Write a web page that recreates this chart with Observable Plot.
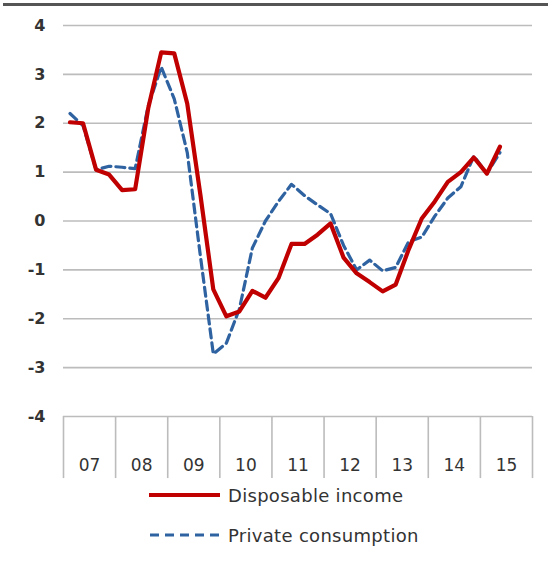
<!DOCTYPE html>
<html>
<head>
<meta charset="utf-8">
<script src="https://cdn.jsdelivr.net/npm/d3@7"></script>
<script src="https://cdn.jsdelivr.net/npm/@observablehq/plot@0.6"></script>
<style>
  html, body { margin: 0; padding: 0; background: #fff; }
  #wrap { position: relative; width: 558px; height: 563px; overflow: hidden; font-family: "DejaVu Sans", sans-serif; }
  #toprule { position: absolute; left: 3px; top: 3px; width: 545px; height: 3px; background: #555; }
  #chart { position: absolute; left: 0; top: 0; }
  .leg { position: absolute; left: 149px; display: flex; align-items: center; height: 24px; }
  .leg svg { display: block; margin-right: 8px; }
  .leg span { font-size: 18px; color: #333; white-space: nowrap; letter-spacing: 0.3px; }
</style>
</head>
<body>
<div id="wrap">
  <div id="chart"></div>
  <div id="toprule"></div>
  <div class="leg" style="top:483px">
    <svg width="71" height="8"><line x1="0" y1="4" x2="71" y2="4" stroke="#c00000" stroke-width="4"/></svg>
    <span>Disposable income</span>
  </div>
  <div class="leg" style="top:523px">
    <svg width="71" height="8"><line x1="1" y1="4" x2="71" y2="4" stroke="#2e62a0" stroke-width="3" stroke-dasharray="9,6"/></svg>
    <span>Private consumption</span>
  </div>
</div>
<script>
// Year labels (x-axis categories, 4 quarters each)
const years = ["07", "08", "09", "10", "11", "12", "13", "14", "15"];
// Quarter labels for the observations
const quarters = [
  "07Q1","07Q2","07Q3","07Q4","08Q1","08Q2","08Q3","08Q4",
  "09Q1","09Q2","09Q3","09Q4","10Q1","10Q2","10Q3","10Q4",
  "11Q1","11Q2","11Q3","11Q4","12Q1","12Q2","12Q3","12Q4",
  "13Q1","13Q2","13Q3","13Q4","14Q1","14Q2","14Q3","14Q4",
  "15Q1","15Q2"
];
const disposableIncome = [
  2.02, 2.0, 1.05, 0.95, 0.63, 0.65, 2.3, 3.45,
  3.43, 2.4, 0.55, -1.4, -1.95, -1.85, -1.43, -1.57,
  -1.17, -0.47, -0.47, -0.28, -0.05, -0.75, -1.07, -1.25,
  -1.44, -1.3, -0.58, 0.05, 0.4, 0.8, 1.0, 1.3,
  0.97, 1.52
];
const privateConsumption = [
  2.2, 1.95, 1.05, 1.12, 1.1, 1.07, 2.35, 3.15,
  2.5, 1.4, -0.7, -2.72, -2.5, -1.8, -0.55, 0.0,
  0.4, 0.75, 0.52, 0.33, 0.15, -0.5, -1.0, -0.8,
  -1.02, -0.95, -0.42, -0.33, 0.1, 0.47, 0.7, 1.33,
  0.97, 1.4
];
const yTicks = [-4, -3, -2, -1, 0, 1, 2, 3, 4];

const data = quarters.map((q, i) => ({
  q, pos: i + 0.5, di: disposableIncome[i], pc: privateConsumption[i]
}));
const nSlots = years.length * 4;
const separators = d3.range(0, nSlots + 1, 4);
const yearCenters = years.map((y, i) => ({ label: y, pos: i * 4 + 2 }));

const chart = Plot.plot({
  width: 558,
  height: 482,
  marginLeft: 63,
  marginRight: 26,
  marginTop: 25,
  marginBottom: 66,
  x: { domain: [0, nSlots], axis: null },
  y: { domain: [-4, 4], axis: null },
  style: { fontFamily: "DejaVu Sans, sans-serif", background: "transparent", overflow: "visible" },
  marks: [
    Plot.ruleY(yTicks, { stroke: "#bcbcbc", strokeWidth: 1.6 }),
    Plot.ruleX(separators, { x: d => d, y1: -4, y2: -5.27, stroke: "#bcbcbc", strokeWidth: 1.6 }),
    Plot.text(yearCenters, { x: "pos", y: -4, dy: 49, text: "label", fontSize: 17, fill: "#333" }),
    Plot.axisY({ ticks: yTicks, tickFormat: d => String(d), tickSize: 0, tickPadding: 18, fontSize: 16, fontWeight: "bold", fill: "#333", label: null }),
    Plot.line(data, { x: "pos", y: "pc", stroke: "#2e62a0", strokeWidth: 3.2, strokeDasharray: "9,5" }),
    Plot.line(data, { x: "pos", y: "di", stroke: "#c00000", strokeWidth: 4.2 })
  ]
});
document.getElementById("chart").appendChild(chart);
</script>
</body>
</html>
